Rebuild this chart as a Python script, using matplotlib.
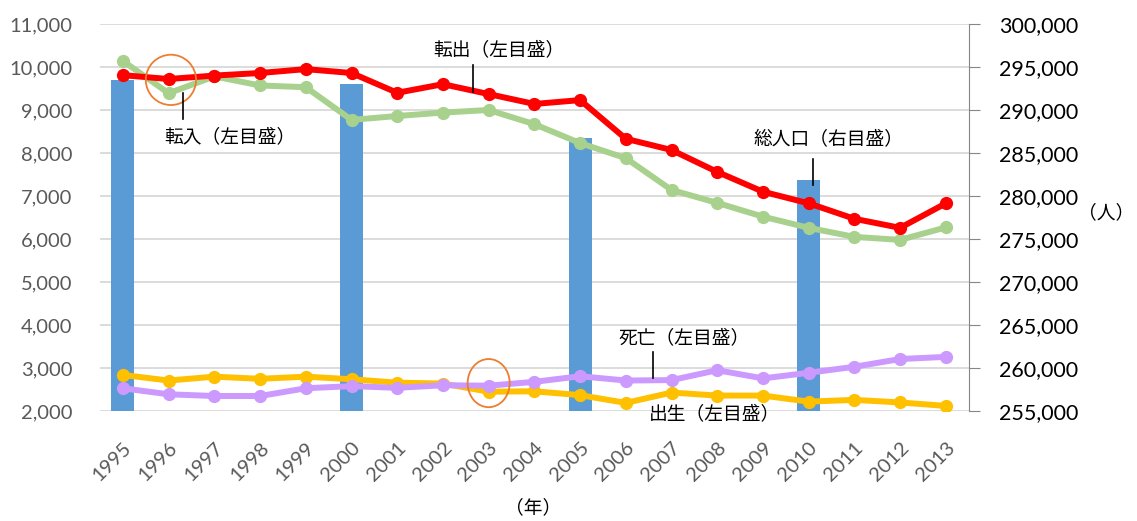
import matplotlib
matplotlib.use("Agg")
import matplotlib.pyplot as plt
from matplotlib.patches import Ellipse

plt.rcParams['font.family'] = ['Lato', 'Noto Sans CJK JP', 'DejaVu Sans']

years = [str(y) for y in range(1995, 2014)]

# 転出 / 転入 / 出生 / 死亡 (left scale)
tenshutsu = [9810, 9720, 9800, 9860, 9950, 9860, 9400, 9600, 9370, 9140, 9230,
             8330, 8070, 7560, 7100, 6830, 6470, 6260, 6830]
tennyu = [10140, 9390, 9780, 9570, 9530, 8770, 8860, 8940, 9000, 8670, 8230,
          7880, 7140, 6840, 6520, 6260, 6050, 5980, 6270]
shussei = [2840, 2710, 2800, 2750, 2800, 2740, 2660, 2640, 2450, 2460, 2370,
           2190, 2430, 2360, 2360, 2220, 2260, 2200, 2120]
shibou = [2530, 2390, 2350, 2350, 2530, 2580, 2540, 2600, 2590, 2680, 2810,
          2710, 2720, 2950, 2760, 2890, 3030, 3210, 3260]

# 総人口 (right scale), census years only
pop_idx = [0, 5, 10, 15]
pop_vals = [293500, 293000, 286700, 281900]

left_ticks = list(range(2000, 11001, 1000))
right_ticks = list(range(255000, 300001, 5000))

fig = plt.figure(figsize=(11.37, 5.21), dpi=100)
ax = fig.add_axes([0.088, 0.211, 0.764, 0.743])   # bars, right scale
ax2 = ax.twinx()                                   # lines, left scale

x = list(range(len(years)))

# bars on the right scale
ax.bar(pop_idx, [v - 255000 for v in pop_vals], bottom=255000, width=0.5,
       color='#5B9BD5', zorder=2)
ax.set_ylim(255000, 300000)
ax.set_yticks(right_ticks)
ax.set_yticklabels([f"{v:,}" for v in right_ticks], fontsize=15.5, color='black')
ax.yaxis.set_ticks_position('right')
ax.tick_params(axis='y', direction='out', length=8, color='#868686', pad=14)
ax.grid(axis='y', color='#D9D9D9', linewidth=1.3)
ax.set_axisbelow(True)
for s in ['top', 'left', 'bottom']:
    ax.spines[s].set_visible(False)
ax.spines['right'].set_color('#868686')
ax.set_xlim(-0.5, len(years) - 0.5)
ax.set_xticks(x)
ax.set_xticklabels(years, rotation=45, ha='right', rotation_mode='anchor',
                   fontsize=14.5, color='#595959')
ax.tick_params(axis='x', length=0, pad=20)

# lines on the left scale
lw = 4.3
ms = 8.5
ax2.plot(x, tennyu, color='#A9D18E', lw=lw, marker='o', ms=ms, zorder=3)
ax2.plot(x, tenshutsu, color='#FF0000', lw=lw, marker='o', ms=ms, zorder=4)
ax2.plot(x, shussei, color='#FFC000', lw=lw, marker='o', ms=ms, zorder=5)
ax2.plot(x, shibou, color='#CC99FF', lw=lw, marker='o', ms=ms, zorder=6)
ax2.set_ylim(2000, 11000)
ax2.set_yticks(left_ticks)
ax2.set_yticklabels([f"{v:,}" for v in left_ticks], fontsize=14.5, color='#595959')
ax2.yaxis.set_ticks_position('left')
ax2.tick_params(axis='y', length=0, pad=20)
for s in ax2.spines.values():
    s.set_visible(False)

# highlight circles
ax2.add_patch(Ellipse((1.05, 9700), 1.1, 1170, fill=False, ec='#ED7D31', lw=1.3, zorder=7))
ax2.add_patch(Ellipse((8, 2650), 0.92, 1120, fill=False, ec='#ED7D31', lw=1.3, zorder=7))

# series labels with leader lines
fs = 13.5
labels = [
    ("転入（左目盛）", (2.35, 8370), (1.31, 9395, 8790)),
    ("転出（左目盛）", (8.22, 10395), (7.66, 10047, 9419)),
    ("総人口（右目盛）", (15.43, 8300), (15.09, 7860, 7256)),
    ("死亡（左目盛）", (12.28, 3700), (11.59, 3372, 2767)),
    ("出生（左目盛）", (12.95, 1930), None),
]
for txt, (tx, ty), line in labels:
    ax2.text(tx, ty, txt, fontsize=fs, ha='center', va='center',
             family=['Noto Sans CJK JP'], clip_on=False, zorder=8)
    if line:
        ax2.plot([line[0], line[0]], [line[1], line[2]], color='black', lw=1.2, zorder=8)

fig.text(0.469, 0.025, "（年）", fontsize=fs, ha='center', va='center',
         family=['Noto Sans CJK JP'])
fig.text(0.998, 0.591, "（人）", fontsize=fs, ha='right', va='center',
         family=['Noto Sans CJK JP'])

fig.savefig("out.png", dpi=100)
